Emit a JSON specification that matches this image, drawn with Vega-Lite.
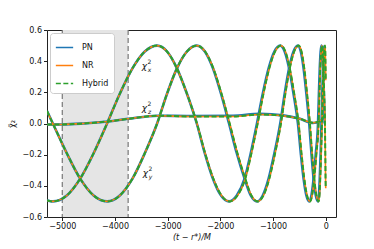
{
  "$schema": "https://vega.github.io/schema/vega-lite/v6.json",
  "width": 289,
  "height": 187,
  "autosize": "none",
  "padding": {"left": 47, "top": 30, "right": 38, "bottom": 32},
  "config": {
    "font": "DejaVu Sans",
    "view": {"stroke": "#222", "strokeWidth": 1},
    "axis": {"grid": false, "domain": false, "tickColor": "#222", "tickSize": 3.5, "labelFontSize": 8, "labelColor": "#111", "labelPadding": 2, "titleFontSize": 8, "titleFontWeight": "normal", "titleColor": "#111", "labelOverlap": false, "labelFlush": false}
  },
  "datasets": {
    "nr": [
      {"t": -5290, "x": -0.494, "y": 0.080}, {"t": -5179, "x": -0.5, "y": 0}, {"t": -4914, "x": -0.462, "y": -0.191},
      {"t": -4660, "x": -0.354, "y": -0.354}, {"t": -4405, "x": -0.191, "y": -0.462}, {"t": -4150, "x": 0, "y": -0.5},
      {"t": -3908, "x": 0.191, "y": -0.462}, {"t": -3668, "x": 0.354, "y": -0.354}, {"t": -3434, "x": 0.462, "y": -0.191},
      {"t": -3200, "x": 0.5, "y": 0}, {"t": -3012, "x": 0.462, "y": 0.191}, {"t": -2824, "x": 0.354, "y": 0.354},
      {"t": -2634, "x": 0.191, "y": 0.462}, {"t": -2444, "x": 0, "y": 0.5}, {"t": -2289, "x": -0.191, "y": 0.462},
      {"t": -2133, "x": -0.354, "y": 0.354}, {"t": -1978, "x": -0.462, "y": 0.191}, {"t": -1823, "x": -0.5, "y": 0},
      {"t": -1675, "x": -0.462, "y": -0.191}, {"t": -1527, "x": -0.354, "y": -0.354}, {"t": -1410, "x": -0.191, "y": -0.462},
      {"t": -1292, "x": 0, "y": -0.5}, {"t": -1182, "x": 0.191, "y": -0.462}, {"t": -1071, "x": 0.354, "y": -0.354},
      {"t": -961, "x": 0.462, "y": -0.191}, {"t": -850, "x": 0.5, "y": 0}, {"t": -766, "x": 0.462, "y": 0.191},
      {"t": -682, "x": 0.354, "y": 0.354}, {"t": -598, "x": 0.191, "y": 0.462}, {"t": -514, "x": 0, "y": 0.5},
      {"t": -460, "x": -0.191, "y": 0.462}, {"t": -407, "x": -0.354, "y": 0.354}, {"t": -354, "x": -0.462, "y": 0.191},
      {"t": -300, "x": -0.5, "y": 0}, {"t": -259, "x": -0.462, "y": -0.191}, {"t": -218, "x": -0.354, "y": -0.354},
      {"t": -176, "x": -0.191, "y": -0.462}, {"t": -135, "x": 0, "y": -0.5}, {"t": -119, "x": 0.191, "y": -0.462},
      {"t": -104, "x": 0.354, "y": -0.354}, {"t": -88, "x": 0.462, "y": -0.191}, {"t": -72, "x": 0.5, "y": 0},
      {"t": -58, "x": 0.462, "y": 0.191}, {"t": -44, "x": 0.354, "y": 0.354}, {"t": -29, "x": 0.191, "y": 0.462},
      {"t": -15, "x": 0, "y": 0.5}, {"t": -8, "x": -0.191, "y": 0.462}, {"t": -3, "x": -0.354, "y": 0.354},
      {"t": 0, "x": -0.416, "y": 0.278},
      {"t": -5290, "z": -0.006}, {"t": -5000, "z": -0.006}, {"t": -4600, "z": 0.0}, {"t": -4133, "z": 0.013},
      {"t": -3753, "z": 0.03}, {"t": -3184, "z": 0.05}, {"t": -2577, "z": 0.045}, {"t": -1761, "z": 0.045},
      {"t": -1249, "z": 0.058}, {"t": -812, "z": 0.05}, {"t": -489, "z": 0.03}, {"t": -243, "z": 0.005},
      {"t": -110, "z": 0.015}, {"t": -15, "z": 0.05}, {"t": 0, "z": 0.05}
    ],
    "pn": [
      {"t": -5290, "x": -0.494, "y": 0.080}, {"t": -5179, "x": -0.5, "y": 0}, {"t": -4914, "x": -0.462, "y": -0.191},
      {"t": -4660, "x": -0.354, "y": -0.354}, {"t": -4405, "x": -0.191, "y": -0.462}, {"t": -4150, "x": 0, "y": -0.5},
      {"t": -3908, "x": 0.191, "y": -0.462}, {"t": -3668, "x": 0.354, "y": -0.354}, {"t": -3434, "x": 0.462, "y": -0.191},
      {"t": -3200, "x": 0.5, "y": 0}, {"t": -3012, "x": 0.462, "y": 0.191}, {"t": -2824, "x": 0.354, "y": 0.354},
      {"t": -2634, "x": 0.191, "y": 0.462}, {"t": -2447, "x": 0, "y": 0.5}, {"t": -2294, "x": -0.191, "y": 0.462},
      {"t": -2140, "x": -0.354, "y": 0.354}, {"t": -1987, "x": -0.462, "y": 0.191}, {"t": -1835, "x": -0.5, "y": 0},
      {"t": -1688, "x": -0.462, "y": -0.191}, {"t": -1540, "x": -0.354, "y": -0.354}, {"t": -1423, "x": -0.191, "y": -0.462},
      {"t": -1305, "x": 0, "y": -0.5}, {"t": -1195, "x": 0.191, "y": -0.462}, {"t": -1084, "x": 0.354, "y": -0.354},
      {"t": -974, "x": 0.462, "y": -0.191}, {"t": -863, "x": 0.5, "y": 0}, {"t": -779, "x": 0.462, "y": 0.191},
      {"t": -695, "x": 0.354, "y": 0.354}, {"t": -611, "x": 0.191, "y": 0.462}, {"t": -527, "x": 0, "y": 0.5},
      {"t": -473, "x": -0.191, "y": 0.462}, {"t": -420, "x": -0.354, "y": 0.354}, {"t": -367, "x": -0.462, "y": 0.191},
      {"t": -313, "x": -0.5, "y": 0}, {"t": -271, "x": -0.462, "y": -0.191}, {"t": -230, "x": -0.354, "y": -0.354},
      {"t": -188, "x": -0.191, "y": -0.462}, {"t": -146, "x": 0, "y": -0.5}, {"t": -129, "x": 0.191, "y": -0.462},
      {"t": -113, "x": 0.354, "y": -0.354}, {"t": -96, "x": 0.462, "y": -0.191}, {"t": -80, "x": 0.5, "y": 0},
      {"t": -65, "x": 0.462, "y": 0.191}, {"t": -50, "x": 0.354, "y": 0.354}, {"t": -35, "x": 0.191, "y": 0.462},
      {"t": -20, "x": 0, "y": 0.5},
      {"t": -5290, "z": -0.006}, {"t": -5000, "z": -0.006}, {"t": -4600, "z": 0.0}, {"t": -4133, "z": 0.013},
      {"t": -3753, "z": 0.03}, {"t": -3184, "z": 0.05}, {"t": -2577, "z": 0.048}, {"t": -1761, "z": 0.05},
      {"t": -1249, "z": 0.062}, {"t": -812, "z": 0.052}, {"t": -489, "z": 0.03}, {"t": -243, "z": 0.003},
      {"t": -110, "z": 0.012}, {"t": -20, "z": 0.05}
    ],
    "labels": [
      {"t": -3440, "v": 0.37, "c": "x"},
      {"t": -3440, "v": 0.10, "c": "z"},
      {"t": -3420, "v": -0.32, "c": "y"}
    ],
    "yaxis": [
      {"v": -0.6}, {"v": 0.6}
    ]
  },
  "layer": [
    {
      "data": {"values": [{"start": -5000, "end": -3750}]},
      "mark": {"type": "rect", "color": "#e5e5e5"},
      "encoding": {
        "x": {"field": "start", "type": "quantitative", "scale": {"domain": [-5290, 195], "nice": false, "zero": false}, "axis": {"values": [-5000, -4000, -3000, -2000, -1000, 0], "format": "d", "title": "(t − r*)/M", "titleFontStyle": "italic", "titlePadding": 3}},
        "x2": {"field": "end"}
      }
    },
    {
      "data": {"values": [{"t": -5000}, {"t": -3750}]},
      "mark": {"type": "rule", "color": "#777", "strokeDash": [5, 3], "strokeWidth": 1.2},
      "encoding": {"x": {"field": "t", "type": "quantitative"}}
    },
    {
      "data": {"name": "pn"},
      "transform": [{"fold": ["x", "y", "z"], "as": ["c", "v"]}, {"filter": {"field": "v", "valid": true}}],
      "mark": {"type": "line", "strokeWidth": 2.6, "interpolate": "monotone", "clip": true},
      "encoding": {
        "x": {"field": "t", "type": "quantitative"},
        "y": {"field": "v", "type": "quantitative", "scale": {"domain": [-0.6, 0.6], "nice": false, "zero": false}, "axis": {"values": [-0.6, -0.4, -0.2, 0, 0.2, 0.4, 0.6], "format": ".1f", "title": "χ̃₂", "titlePadding": 6}},
        "detail": {"field": "c"},
        "color": {"datum": "PN", "type": "nominal", "title": null,
          "scale": {"domain": ["PN", "NR", "Hybrid"], "range": ["#1f77b4", "#ff7f0e", "#2ca02c"]},
          "legend": {"orient": "top-left", "offset": 3, "fillColor": "white", "strokeColor": "#ccc", "cornerRadius": 3, "padding": 5,
            "symbolType": "stroke", "symbolSize": 300, "symbolStrokeWidth": 1.6, "labelFontSize": 8, "labelColor": "#111", "labelOffset": 8, "rowPadding": 4,
            "encode": {"symbols": {"update": {"strokeDash": {"signal": "datum.value === 'Hybrid' ? [5, 2.5] : [1, 0]"}}}}}
        }
      }
    },
    {
      "data": {"name": "nr"},
      "transform": [{"fold": ["x", "y", "z"], "as": ["c", "v"]}, {"filter": {"field": "v", "valid": true}}],
      "mark": {"type": "line", "strokeWidth": 1.6, "interpolate": "monotone", "clip": true},
      "encoding": {
        "x": {"field": "t", "type": "quantitative"},
        "y": {"field": "v", "type": "quantitative", "axis": {"values": [-0.6, -0.4, -0.2, 0, 0.2, 0.4, 0.6], "format": ".1f", "title": "χ̃₂", "titlePadding": 6}},
        "detail": {"field": "c"},
        "color": {"datum": "NR", "type": "nominal"}
      }
    },
    {
      "data": {"name": "nr"},
      "transform": [{"fold": ["x", "y", "z"], "as": ["c", "v"]}, {"filter": {"field": "v", "valid": true}}],
      "mark": {"type": "line", "strokeWidth": 2, "strokeDash": [5, 2.5], "interpolate": "monotone", "clip": true},
      "encoding": {
        "x": {"field": "t", "type": "quantitative"},
        "y": {"field": "v", "type": "quantitative", "axis": {"values": [-0.6, -0.4, -0.2, 0, 0.2, 0.4, 0.6], "format": ".1f", "title": "χ̃₂", "titlePadding": 6}},
        "detail": {"field": "c"},
        "color": {"datum": "Hybrid", "type": "nominal"}
      }
    },
    {
      "data": {"name": "labels"},
      "mark": {"type": "text", "fontSize": 9, "fontStyle": "italic", "color": "#111"},
      "encoding": {
        "x": {"field": "t", "type": "quantitative"},
        "y": {"field": "v", "type": "quantitative", "axis": {"values": [-0.6, -0.4, -0.2, 0, 0.2, 0.4, 0.6], "format": ".1f", "title": "χ̃₂", "titlePadding": 6}},
        "text": {"value": "χ"}
      }
    },
    {
      "data": {"name": "labels"},
      "mark": {"type": "text", "fontSize": 6, "dx": 5, "dy": -4, "color": "#111"},
      "encoding": {
        "x": {"field": "t", "type": "quantitative"},
        "y": {"field": "v", "type": "quantitative", "axis": {"values": [-0.6, -0.4, -0.2, 0, 0.2, 0.4, 0.6], "format": ".1f", "title": "χ̃₂", "titlePadding": 6}},
        "text": {"value": "2"}
      }
    },
    {
      "data": {"name": "labels"},
      "mark": {"type": "text", "fontSize": 6, "fontStyle": "italic", "dx": 5, "dy": 4, "color": "#111"},
      "encoding": {
        "x": {"field": "t", "type": "quantitative"},
        "y": {"field": "v", "type": "quantitative", "axis": {"values": [-0.6, -0.4, -0.2, 0, 0.2, 0.4, 0.6], "format": ".1f", "title": "χ̃₂", "titlePadding": 6}},
        "text": {"field": "c"}
      }
    }
  ]
}
